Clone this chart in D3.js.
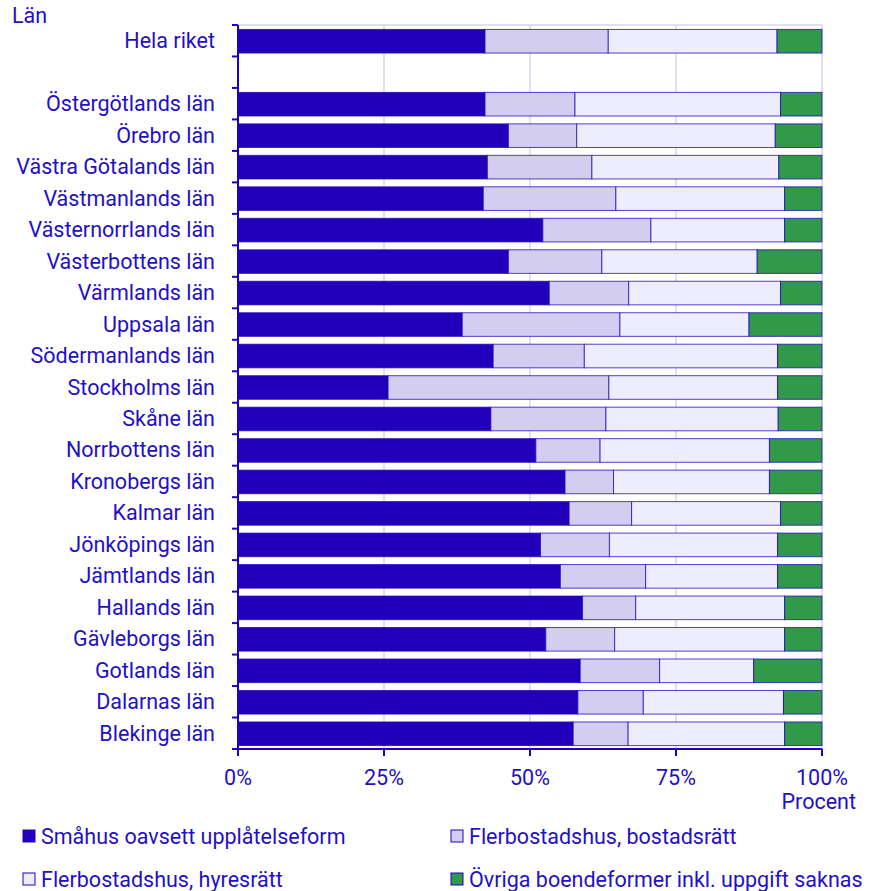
<!DOCTYPE html>
<html><head><meta charset="utf-8">
<script src="https://cdn.jsdelivr.net/npm/d3@7"></script>
<style>body{margin:0;background:#fff;} text{font-family:Roboto,"Noto Sans",sans-serif;}</style>
</head><body>
<svg id="chart" width="874" height="891"></svg>
<script>
const categories = ["Hela riket","","Östergötlands län","Örebro län","Västra Götalands län","Västmanlands län","Västernorrlands län","Västerbottens län","Värmlands län","Uppsala län","Södermanlands län","Stockholms län","Skåne län","Norrbottens län","Kronobergs län","Kalmar län","Jönköpings län","Jämtlands län","Hallands län","Gävleborgs län","Gotlands län","Dalarnas län","Blekinge län"];
const smahus =      [42.3,null,42.3,46.3,42.7,42.0,52.2,46.3,53.3,38.4,43.7,25.7,43.3,51.0,56.0,56.7,51.8,55.2,59.0,52.7,58.6,58.2,57.4];
const bostadsratt = [21.1,null,15.4,11.7,17.9,22.7,18.5,16.0,13.6,27.0,15.6,37.8,19.7,11.0, 8.3,10.7,11.8,14.6, 9.1,11.8,13.6,11.2, 9.4];
const hyresratt =   [28.9,null,35.2,34.0,32.0,28.9,22.9,26.6,26.0,22.1,33.1,28.9,29.5,29.0,26.7,25.5,28.8,22.6,25.5,29.1,16.1,24.0,26.8];
const ovriga =      [ 7.7,null, 7.1, 8.0, 7.4, 6.4, 6.4,11.1, 7.1,12.5, 7.6, 7.6, 7.5, 9.0, 9.0, 7.1, 7.6, 7.6, 6.4, 6.4,11.7, 6.6, 6.4];
const seriesNames = ["Småhus oavsett upplåtelseform","Flerbostadshus, bostadsrätt","Flerbostadshus, hyresrätt","Övriga boendeformer inkl. uppgift saknas"];
const xTicks = [0,25,50,75,100];

const colors = ["#2200bb","#d3cef0","#ededfd","#31994a"];
const textColor = "#2310c4";
const fs = 21.5;
const svg = d3.select("#chart");
const m = {left:238, right:822, top:25, bottom:749};

const x = d3.scaleLinear().domain([0,100]).range([m.left,m.right]);
const y = d3.scaleBand().domain(categories.map((c,i)=>i)).range([m.top,m.bottom]).paddingInner(0.25).paddingOuter(0.125);

// grid
svg.append("g").selectAll("line").data(xTicks.slice(1)).join("line")
  .attr("x1",d=>x(d)).attr("x2",d=>x(d)).attr("y1",m.top).attr("y2",m.bottom)
  .attr("stroke","#d6d4f0").attr("stroke-width",1.5);
svg.append("line").attr("x1",m.left).attr("x2",m.right).attr("y1",m.top).attr("y2",m.top)
  .attr("stroke","#d6d4f0").attr("stroke-width",1.5);

const rows = categories.map((c,i)=>({i, vals:[smahus[i],bostadsratt[i],hyresratt[i],ovriga[i]]})).filter(r=>r.vals[0]!==null);
const segs = [];
rows.forEach(r=>{ let acc=0; r.vals.forEach((v,k)=>{ segs.push({i:r.i,k,x0:acc,x1:acc+v}); acc+=v; }); });
svg.append("g").selectAll("rect").data(segs).join("rect")
  .attr("x",d=>x(d.x0)).attr("width",d=>x(Math.min(d.x1,100))-x(d.x0))
  .attr("y",d=>y(d.i)+0.5).attr("height",y.bandwidth())
  .attr("fill",d=>colors[d.k]).attr("stroke","#2200bb").attr("stroke-opacity",0.75).attr("stroke-width",1);

// y axis
const ya = svg.append("g").attr("transform",`translate(${m.left},0)`);
ya.append("line").attr("x1",0).attr("x2",0).attr("y1",m.top).attr("y2",m.bottom).attr("stroke","#2200bb").attr("stroke-width",2);
const step = y.step();
const tickYs = d3.range(categories.length+1).map(j=>m.top + j*step);
ya.selectAll("line.t").data(tickYs).join("line").attr("class","t")
  .attr("x1",-6).attr("x2",0).attr("y1",d=>d).attr("y2",d=>d).attr("stroke","#2200bb").attr("stroke-width",2);
ya.selectAll("text").data(categories.map((c,i)=>({c,i})).filter(d=>d.c)).join("text")
  .attr("x",-23).attr("y",d=>y(d.i)+y.bandwidth()/2).attr("dy","0.35em")
  .attr("text-anchor","end").attr("font-size",fs).attr("fill",textColor).text(d=>d.c);

// x axis
const xa = svg.append("g").attr("transform",`translate(0,${m.bottom})`);
xa.append("line").attr("x1",m.left).attr("x2",m.right).attr("stroke","#2200bb").attr("stroke-width",2);
xa.selectAll("line.t").data(xTicks).join("line").attr("class","t")
  .attr("x1",d=>x(d)).attr("x2",d=>x(d)).attr("y1",0).attr("y2",7).attr("stroke","#2200bb").attr("stroke-width",2);
xa.selectAll("text").data(xTicks).join("text")
  .attr("x",d=>x(d)).attr("y",36).attr("text-anchor","middle").attr("font-size",fs).attr("fill",textColor).text(d=>d+"%");
svg.append("text").attr("x",856).attr("y",809).attr("text-anchor","end").attr("font-size",fs).attr("fill",textColor).text("Procent");
svg.append("text").attr("x",12).attr("y",23).attr("font-size",fs).attr("fill",textColor).text("Län");

// legend
const legPos = [[23,836],[451,836],[23,879],[451,879]];
seriesNames.forEach((n,k)=>{
  const [lx,ly]=legPos[k];
  svg.append("rect").attr("x",lx).attr("y",ly-6).attr("width",12).attr("height",12)
    .attr("fill",colors[k]).attr("stroke","#2200bb").attr("stroke-width",1);
  svg.append("text").attr("x",lx+18).attr("y",ly).attr("dy","0.35em").attr("font-size",fs).attr("fill",textColor).text(n);
});
</script>
</body></html>
